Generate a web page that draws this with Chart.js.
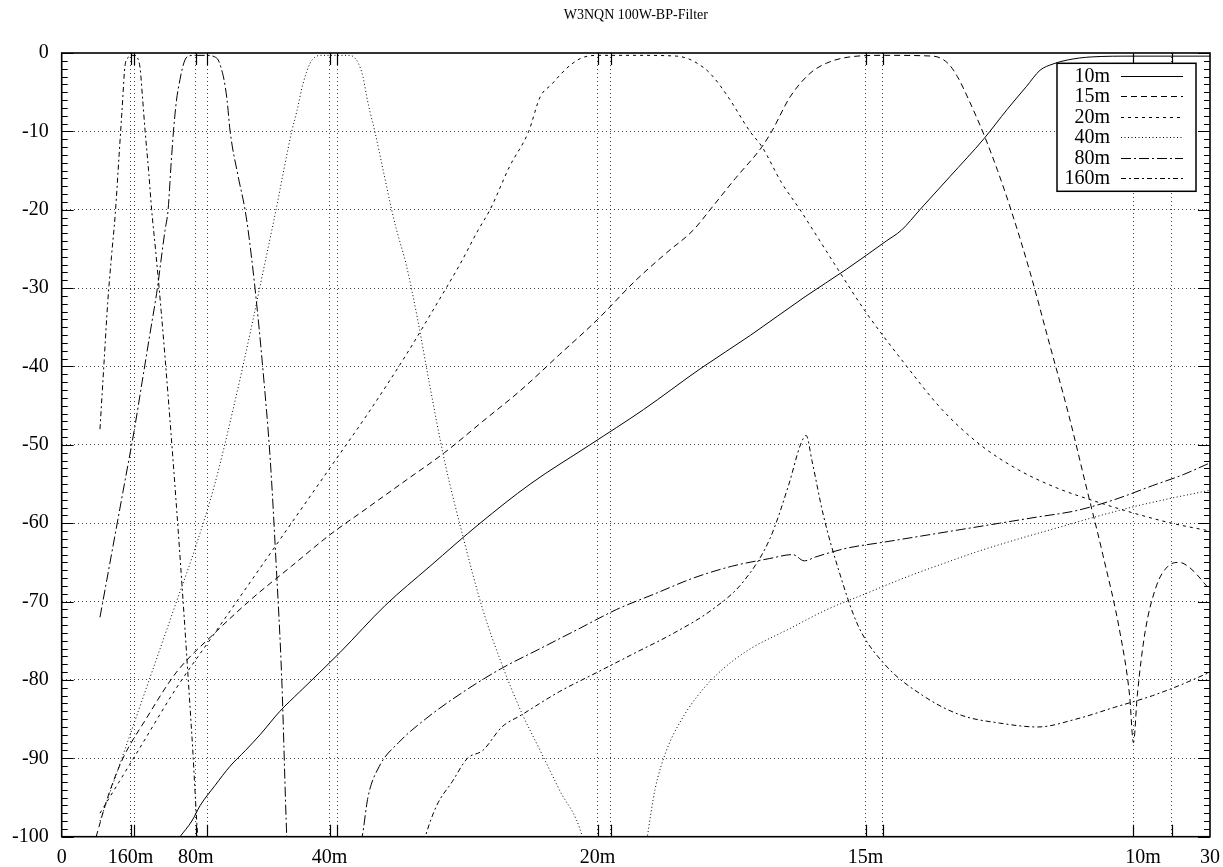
<!DOCTYPE html>
<html><head><meta charset="utf-8">
<script src="https://cdn.jsdelivr.net/npm/chart.js@4.4.1/dist/chart.umd.min.js"></script>
<style>html,body{margin:0;padding:0;background:#fff}#c{display:block}</style>
</head><body>
<canvas id="c" width="1223" height="867"></canvas>
<script>
// ---------- data ----------
const chartTitle = 'W3NQN 100W-BP-Filter';
const seriesNames = ['10m', '15m', '20m', '40m', '80m', '160m'];
// band edges (MHz) -> vertical grid lines
const bandEdges = [1.8, 1.9, 3.5, 3.8, 7.0, 7.2, 14.0, 14.35, 21.0, 21.45, 28.0, 29.0];
// x tick labels
const xLabelValues = [0, 1.8, 3.5, 7.0, 14.0, 21.0, 28.25, 30];
const xLabelTexts = ['0', '160m', '80m', '40m', '20m', '15m', '10m', '30'];
const yMin = -100, yMax = 0, yStep = 10, yMinorStep = 1;

const f10m = [3.09, 3.4, 3.62, 4.0, 4.4, 4.8, 5.18, 5.7, 6.22, 7.27, 8.45, 9.62, 10.93, 12.24, 13.8, 15.2, 16.68, 18.0, 19.42, 20.5, 21.54, 21.94, 22.42, 23.2, 24.1, 24.7, 25.2, 25.56, 25.9, 26.27, 26.9, 28.0, 30.0];
const db10m = [-100, -98, -96, -93.5, -91, -89, -87, -84, -81.5, -76.5, -70.5, -65.5, -60, -55, -50, -45.5, -40.3, -36, -31.1, -27.6, -24, -22.6, -20, -15.8, -10.9, -7.2, -4.3, -2.2, -1.4, -0.9, -0.5, -0.4, -0.4];

const f15m = [0.9, 1.2, 1.6, 2.2, 3.0, 4.0, 5.0, 6.0, 7.0, 8.0, 9.0, 10.0, 11.0, 12.0, 13.0, 14.0, 15.0, 15.8, 16.5, 16.94, 17.6, 18.29, 18.55, 19.03, 19.55, 19.98, 20.59, 21.5, 22.76, 23.15, 23.4, 23.7, 24.1, 24.45, 24.8, 25.3, 25.8, 26.3, 26.75, 27.2, 27.65, 27.9, 28.0, 28.1, 28.3, 28.6, 28.9, 29.2, 29.5, 30.0];
const db15m = [-100, -95, -90, -85, -79, -74, -69.5, -65.5, -61.5, -58, -54.5, -51, -47, -43, -38.5, -34, -29, -25.5, -22.6, -20, -16, -12, -10, -5.6, -2.6, -1.3, -0.5, -0.3, -0.4, -1.3, -3, -6, -10.5, -15, -20, -28, -37, -46, -55, -64, -74, -82, -88, -82, -74, -68, -65.5, -65, -65.8, -68.5];

const f20m = [1.0, 1.5, 2.0, 3.0, 4.0, 5.0, 6.0, 7.0, 8.0, 9.0, 9.8, 10.4, 10.88, 11.19, 11.7, 12.2, 12.5, 12.8, 13.06, 13.3, 13.6, 14.0, 15.0, 16.07, 16.35, 16.6, 16.94, 17.41, 17.98, 18.3, 18.8, 19.29, 19.63, 20.2, 21.0, 22.0, 23.0, 24.0, 25.0, 26.0, 27.0, 28.0, 29.0, 30.0];
const db20m = [-97, -93, -89, -81, -74, -67, -60, -53, -46, -38.5, -32, -27, -22.6, -20, -14.5, -10, -5.6, -4, -2.6, -1.5, -0.6, -0.3, -0.3, -0.4, -0.7, -1.3, -2.6, -5.6, -10, -12, -16.5, -20, -22.6, -27, -33, -39.5, -45.5, -50, -53.2, -55.5, -57.2, -58.7, -60, -61];

const f40m = [1.0, 1.5, 2.0, 2.5, 3.0, 3.5, 4.0, 4.5, 5.0, 5.3, 5.49, 5.6, 5.8, 6.01, 6.14, 6.3, 6.49, 6.6, 6.75, 7.1, 7.53, 7.65, 7.75, 7.87, 7.97, 8.07, 8.18, 8.4, 8.62, 8.75, 9.0, 9.3, 9.6, 10.0, 10.5, 11.0, 11.5, 12.0, 12.5, 13.0, 13.6, 14.0, 15.0, 15.3, 15.5, 15.8, 16.2, 16.7, 17.3, 18.0, 19.0, 20.0, 21.0, 22.0, 23.0, 24.0, 25.0, 26.0, 27.0, 28.0, 29.0, 30.0];
const db40m = [-98, -91, -84, -77, -70, -63, -55, -45, -34, -27, -22.6, -20, -15, -10, -7.5, -4, -1.3, -0.6, -0.3, -0.3, -0.3, -0.6, -1.3, -3, -5.6, -7.8, -10, -15, -20, -22.6, -27, -34, -42, -52, -62, -71, -78, -84, -89, -94, -100, -110, -110, -100, -94, -89, -85, -81.5, -78.5, -76, -73.5, -71, -69, -67, -65.2, -63.5, -62, -60.6, -59.2, -57.9, -56.8, -55.8];

const f80m = [1.0, 1.3, 1.6, 1.9, 2.1, 2.3, 2.5, 2.62, 2.7, 2.78, 2.86, 2.92, 3.0, 3.09, 3.15, 3.22, 3.3, 3.5, 3.8, 4.0, 4.09, 4.17, 4.24, 4.32, 4.4, 4.6, 4.79, 4.87, 5.05, 5.25, 5.45, 5.6, 5.75, 5.88, 6.0, 7.0, 7.85, 8.0, 8.3, 8.8, 9.5, 10.5, 11.5, 12.5, 13.5, 14.5, 15.5, 16.5, 17.5, 18.5, 19.1, 19.4, 19.7, 20.5, 21.5, 22.5, 23.5, 24.5, 25.5, 26.5, 27.5, 28.5, 29.3, 30.0];
const db80m = [-72, -64, -56, -48, -42, -36, -30, -25.5, -22.6, -20, -14, -10, -6, -3.4, -2, -0.9, -0.4, -0.3, -0.3, -0.5, -0.9, -2, -3.4, -6, -10, -15.5, -20, -22.6, -30, -40, -52, -65, -80, -100, -110, -115, -100, -95, -91, -88, -85, -81.5, -78.5, -76, -73.5, -71, -69, -67, -65.5, -64.5, -64, -64.8, -64.3, -63.2, -62.4, -61.6, -60.8, -60, -59.2, -58.4, -57, -55.2, -53.8, -52.3];

const f160m = [1.0, 1.1, 1.2, 1.3, 1.4, 1.5, 1.58, 1.65, 1.72, 1.8, 1.9, 1.98, 2.05, 2.11, 2.18, 2.27, 2.35, 2.45, 2.6, 2.8, 3.0, 3.2, 3.4, 3.6, 4.5, 9.0, 9.5, 9.8, 10.2, 10.6, 11.0, 11.5, 12.0, 13.0, 14.0, 15.0, 16.0, 17.0, 17.8, 18.5, 19.0, 19.3, 19.45, 19.6, 19.9, 20.3, 20.8, 21.5, 22.5, 23.5, 24.5, 25.5, 26.5, 27.5, 28.5, 29.3, 30.0];
const db160m = [-48, -40, -32, -26, -20.5, -13, -7, -1.8, -0.7, -0.3, -0.3, -0.6, -2, -5.6, -10, -15, -20, -25, -33, -45, -58, -72, -87, -102, -110, -110, -100, -96, -93, -90, -89, -86, -84.5, -81.5, -79, -76.5, -74, -71, -67.5, -62, -55, -50, -48.8, -52, -59, -66, -73, -78, -82, -84.5, -85.5, -86, -85, -83.5, -82, -80.5, -79];

// ---------- styling ----------
const FONT = "'Liberation Serif','Times New Roman',serif";
const GRID = 'rgba(0,0,0,0.75)';
const NONE = 'rgba(0,0,0,0)';
const dashes = {
  '10m': [], '15m': [6, 4], '20m': [3, 4], '40m': [1, 2.5], '80m': [10, 3, 2, 3], '160m': [5, 3, 2, 3]
};
const seriesData = [[f10m, db10m], [f15m, db15m], [f20m, db20m], [f40m, db40m], [f80m, db80m], [f160m, db160m]];

Chart.defaults.font.family = FONT;
Chart.defaults.color = '#000';

const datasets = seriesNames.map((name, k) => ({
  label: name,
  data: seriesData[k][0].map((x, i) => ({ x: x, y: seriesData[k][1][i] })),
  borderColor: '#000',
  borderWidth: 1,
  borderDash: dashes[name],
  pointRadius: 0,
  fill: false,
  cubicInterpolationMode: 'monotone'
}));

const allXTicks = Array.from(new Set(bandEdges.concat(xLabelValues))).sort((a, b) => a - b);

const framePlugin = {
  id: 'frame',
  afterDatasetsDraw(chart) {
    const { ctx, chartArea: a } = chart;
    const xs = chart.scales.x, ys = chart.scales.y;
    ctx.save();
    ctx.strokeStyle = '#000';
    ctx.lineWidth = 1.2;
    ctx.beginPath();
    for (let v = yMin; v <= yMax; v += yMinorStep) {
      const p = Math.round(ys.getPixelForValue(v)) + 0.5;
      const len = (v % yStep === 0) ? 12 : 6;
      ctx.moveTo(a.left, p); ctx.lineTo(a.left + len, p);
      ctx.moveTo(a.right, p); ctx.lineTo(a.right - len, p);
    }
    bandEdges.forEach(v => {
      const p = Math.round(xs.getPixelForValue(v)) + 0.5;
      ctx.moveTo(p, a.bottom); ctx.lineTo(p, a.bottom - 12);
      ctx.moveTo(p, a.top); ctx.lineTo(p, a.top + 12);
    });
    ctx.stroke();
    ctx.lineWidth = 1.6;
    ctx.strokeRect(a.left, a.top, a.right - a.left, a.bottom - a.top);
    ctx.restore();
  }
};

const legendPlugin = {
  id: 'gpLegend',
  afterDraw(chart) {
    const { ctx, chartArea: a } = chart;
    const w = 139, h = 128, rowH = 20.46;
    const left = a.right - 14 - w, top = a.top + 10.3;
    ctx.save();
    ctx.fillStyle = '#fff';
    ctx.fillRect(left, top, w, h);
    ctx.lineWidth = 1.5;
    ctx.strokeStyle = '#000';
    ctx.strokeRect(left, top, w, h);
    ctx.font = '20px ' + FONT;
    ctx.textAlign = 'right';
    ctx.textBaseline = 'middle';
    ctx.fillStyle = '#000';
    chart.data.datasets.forEach((ds, i) => {
      const y = top + 12.4 + i * rowH;
      ctx.fillText(ds.label, left + 53, y + 1);
      ctx.setLineDash(ds.borderDash || []);
      ctx.lineWidth = 1;
      ctx.beginPath();
      ctx.moveTo(left + 64, Math.round(y) + 0.5);
      ctx.lineTo(left + 126, Math.round(y) + 0.5);
      ctx.stroke();
      ctx.setLineDash([]);
    });
    ctx.restore();
  }
};

new Chart(document.getElementById('c'), {
  type: 'line',
  data: { datasets: datasets },
  options: {
    responsive: false,
    animation: false,
    devicePixelRatio: 1,
    layout: { padding: { left: 0, right: 13, top: 0, bottom: 0 } },
    plugins: {
      legend: { display: false },
      tooltip: { enabled: false },
      title: {
        display: true, text: chartTitle, fullSize: false, color: '#000',
        font: { family: FONT, size: 14, weight: 'normal', lineHeight: 1.2 },
        padding: { top: 7, bottom: 29.2 }
      }
    },
    scales: {
      x: {
        type: 'linear', min: 0, max: 30,
        afterBuildTicks: sc => { sc.ticks = allXTicks.map(v => ({ value: v })); },
        afterFit: sc => { sc.height = 30.3; sc.paddingLeft = 0; sc.paddingRight = 0; },
        ticks: {
          autoSkip: false, maxRotation: 0, minRotation: 0, padding: 9,
          font: { family: FONT, size: 20 },
          callback: v => { const i = xLabelValues.indexOf(v); return i >= 0 ? xLabelTexts[i] : ''; }
        },
        grid: {
          drawTicks: false, lineWidth: 1,
          color: ctx => (ctx.tick && bandEdges.includes(ctx.tick.value)) ? GRID : NONE
        },
        border: { display: false, dash: [1, 3] }
      },
      y: {
        type: 'linear', min: yMin, max: yMax,
        afterFit: sc => { sc.width = 61.7; },
        ticks: { stepSize: yStep, padding: 13, font: { family: FONT, size: 20 }, callback: v => String(v) },
        grid: {
          drawTicks: false, lineWidth: 1,
          color: ctx => (ctx.tick && (ctx.tick.value === yMin || ctx.tick.value === yMax)) ? NONE : GRID
        },
        border: { display: false, dash: [1, 3] }
      }
    }
  },
  plugins: [framePlugin, legendPlugin]
});
</script>
</body></html>
